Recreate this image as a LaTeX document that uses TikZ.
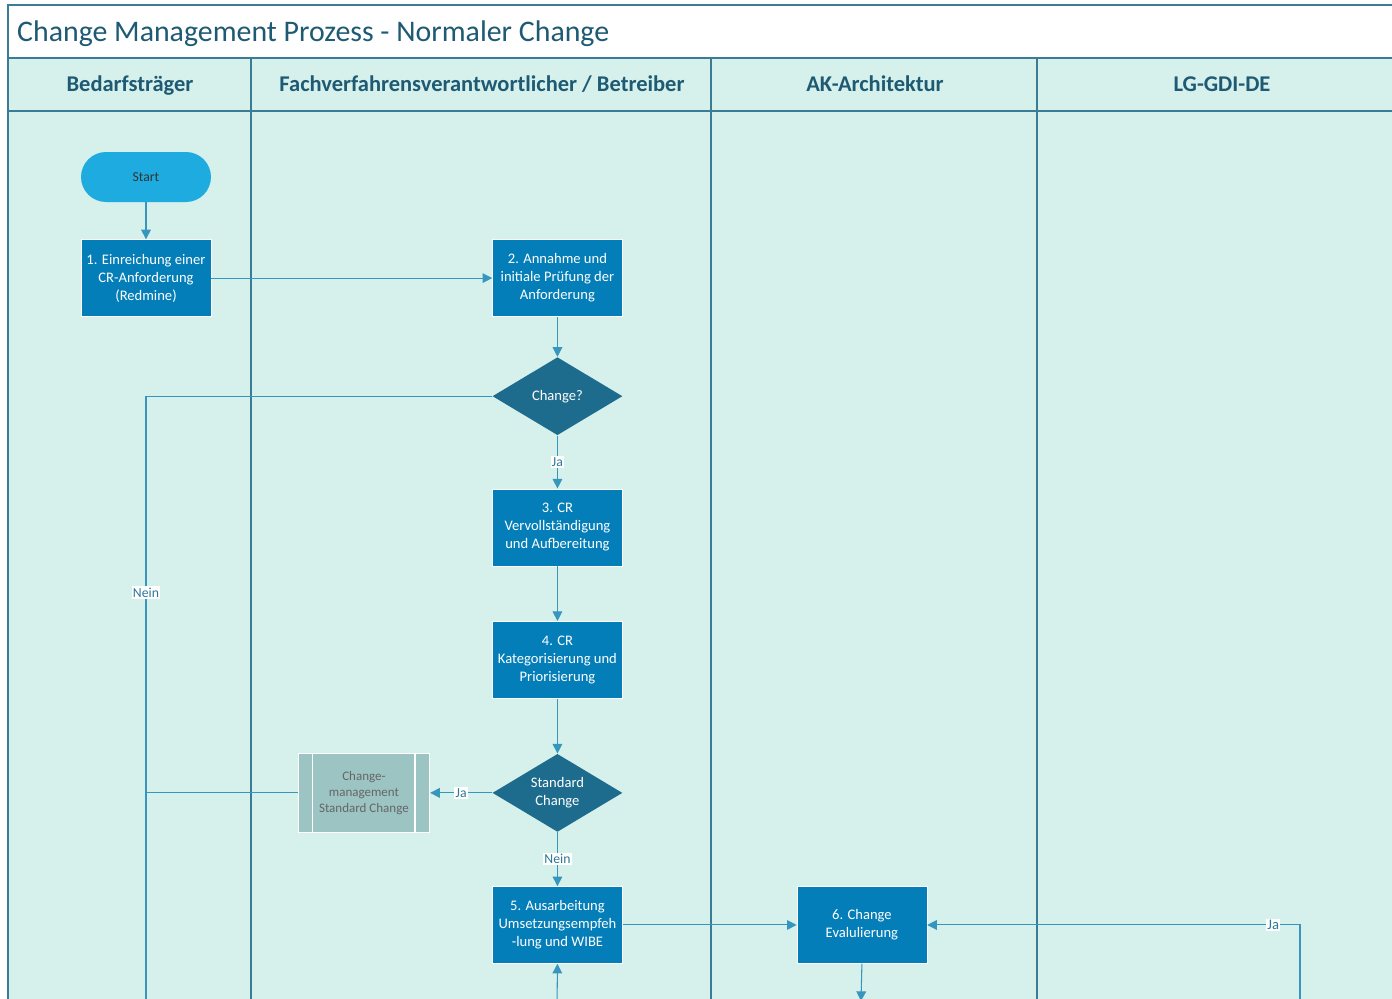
\documentclass[tikz,border=0pt]{standalone}
\usepackage{fontspec}
\setmainfont{Carlito}
\usetikzlibrary{arrows.meta, positioning, shapes.geometric}
\definecolor{lanefill}{RGB}{214,240,235}
\definecolor{framecol}{RGB}{58,124,149}
\definecolor{boxblue}{RGB}{4,126,184}
\definecolor{decblue}{RGB}{29,108,141}
\definecolor{startblue}{RGB}{30,172,224}
\definecolor{stdgrey}{RGB}{155,196,194}
\definecolor{linecol}{RGB}{54,150,190}
\definecolor{headtext}{RGB}{30,90,115}

\begin{document}
\begin{tikzpicture}[
    x=0.02cm, y=-0.02cm,
    procbox/.style={draw=white, line width=0.3pt, fill=boxblue, text=white,
                minimum width=2.6cm, minimum height=1.54cm, inner sep=1pt,
                align=center, font=\fontsize{8.3}{10.2}\selectfont},
    decbox/.style={diamond, aspect=1.67, fill=decblue, text=white,
                minimum width=2.6cm, minimum height=1.56cm, inner sep=0pt,
                align=center, font=\fontsize{8.3}{10.2}\selectfont},
    termbox/.style={fill=startblue, rounded corners=0.5cm, text=black!80,
                minimum width=2.6cm, minimum height=1cm,
                font=\fontsize{7.8}{10}\selectfont},
    stdbox/.style={draw=white, line width=0.8pt, fill=stdgrey, text=black!60,
                minimum width=2.62cm, minimum height=1.58cm, inner sep=1pt,
                align=center, font=\fontsize{7.4}{9}\selectfont},
    lane/.style={draw=framecol, line width=0.6pt},
    head/.style={font=\fontsize{12.8}{14}\selectfont\bfseries, text=headtext,
                text height=1.6ex, text depth=0.4ex},
    lbl/.style={fill=white, inner sep=0.8pt, text=linecol!80!black,
                font=\fontsize{7.8}{9}\selectfont},
    arr/.style={-{Triangle[length=5.5pt, width=5.5pt]}, draw=linecol, line width=0.6pt},
    con/.style={draw=linecol, line width=0.6pt},
  ]
    \useasboundingbox (0,0) rectangle (1392,998);
    \clip (0,0) rectangle (1392,998);

    % pool and lanes
    \fill[white] (8,5) rectangle (1400,58);
    \fill[lanefill] (8,58) rectangle (1400,1005);
    \draw[framecol, line width=1.2pt] (1400,5) -- (8,5) -- (8,1005);
    \draw[framecol, line width=1pt] (8,58) -- (1400,58);
    \draw[framecol, line width=1pt] (8,111) -- (1400,111);
    \foreach \xl in {251, 711, 1037}
      \draw[lane] (\xl,58) -- (\xl,1005);

    \node[anchor=west, text=headtext, font=\fontsize{17}{19}\selectfont]
      (title) at (11,34) {Change Management Prozess - Normaler Change};
    \node[head] (laneA) at (130,86)  {Bedarfsträger};
    \node[head] (laneB) at (482,86)  {Fachverfahrensverantwortlicher / Betreiber};
    \node[head] (laneC) at (875,86)  {AK-Architektur};
    \node[head] (laneD) at (1222,86) {LG-GDI-DE};

    % flow
    \node[termbox] (start) at (146,177) {Start};
    \node[procbox] (einr) [below=0.74cm of start]
      {1. Einreichung einer\\CR-Anforderung\\(Redmine)};
    \node[procbox] (annahme) [right=5.62cm of einr]
      {2. Annahme und\\initiale Prüfung der\\Anforderung};
    \node[decbox]  (chg)  [below=0.8cm of annahme] {Change?};
    \node[procbox] (vervoll) [below=1.06cm of chg]
      {3. CR\\Vervollständigung\\und Aufbereitung};
    \node[procbox] (kateg) [below=1.1cm of vervoll]
      {4. CR\\Kategorisierung und\\Priorisierung};
    \node[decbox]  (stdchg) [below=1.1cm of kateg] {Standard\\Change};
    \node[stdbox]  (stdproc) [left=1.24cm of stdchg]
      {Change-\\management\\Standard Change};
    \draw[white, line width=0.8pt] ([xshift=0.3cm]stdproc.north west) -- ([xshift=0.3cm]stdproc.south west);
    \draw[white, line width=0.8pt] ([xshift=-0.3cm]stdproc.north east) -- ([xshift=-0.3cm]stdproc.south east);
    \node[procbox] (ausarb) [below=1.08cm of stdchg]
      {5. Ausarbeitung\\Umsetzungsempfeh\\-lung und WIBE};
    \node[procbox] (evalu) [right=3.48cm of ausarb]
      {6. Change\\Evalulierung};

    \coordinate (neinEnd) at (146,1010);
    \coordinate (jaFoot) at (1300,1010);
    \coordinate (backFoot) at (557,1010);
    \coordinate (evalEnd) at (861,1001);

    \draw[arr] (start) -- (einr);
    \draw[arr] (einr) -- (annahme);
    \draw[arr] (annahme) -- (chg);
    \draw[arr] (chg) -- (vervoll) node[midway, lbl] {Ja};
    \draw[arr] (vervoll) -- (kateg);
    \draw[arr] (kateg) -- (stdchg);
    \draw[arr] (stdchg) -- (stdproc) node[pos=0.5, lbl] {Ja};
    \draw[arr] (stdchg) -- (ausarb) node[midway, lbl] {Nein};
    \draw[arr] (ausarb) -- (evalu);
    \draw[con] (chg.west) -- (chg.west -| neinEnd) -- (neinEnd)
      node[pos=0.32, lbl] {Nein};
    \draw[con] (stdproc.west) -- (stdproc.west -| neinEnd);
    \draw[arr] (jaFoot) |- (evalu.east)
      node[pos=0.536, lbl, font=\fontsize{8.3}{9}\selectfont] {Ja};
    \draw[arr] (backFoot) -- (ausarb.south);
    \draw[arr] (evalu.south) -- (evalEnd);
  \end{tikzpicture}
\end{document}
